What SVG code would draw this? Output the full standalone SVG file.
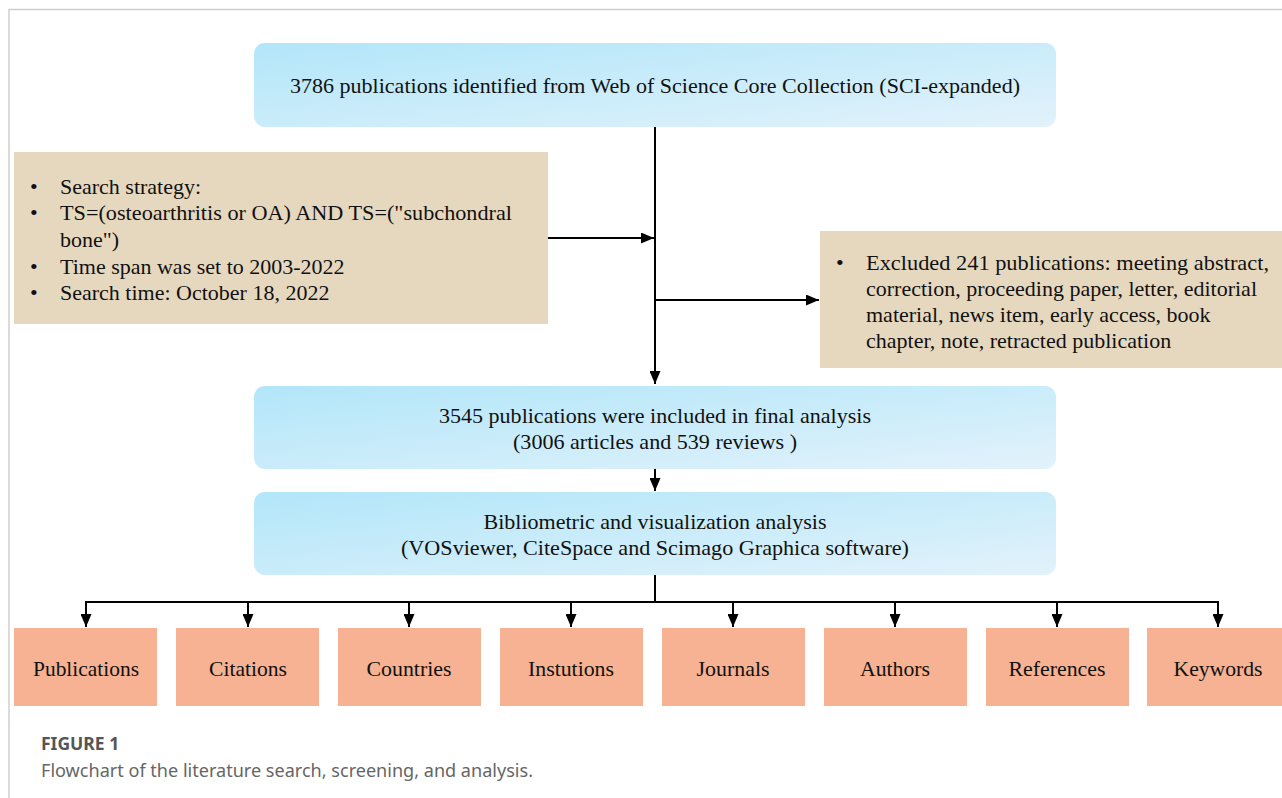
<svg xmlns="http://www.w3.org/2000/svg" width="1282" height="798" viewBox="0 0 1282 798">
<defs>
<linearGradient id="blue" x1="0" y1="0" x2="1" y2="1">
<stop offset="0" stop-color="#b2e6f9"/>
<stop offset="1" stop-color="#e2f2fb"/>
</linearGradient>
<marker id="ah" viewBox="0 0 13 11" refX="13" refY="5.5" markerWidth="13" markerHeight="11" markerUnits="userSpaceOnUse" orient="auto">
<path d="M0,0 L13,5.5 L0,11 Z" fill="#000"/>
</marker>
<style>
.t{font-family:"Liberation Serif","Times New Roman",serif;font-size:22px;fill:#111;}
.c{text-anchor:middle;}
.blue{fill:url(#blue);}
.tan{fill:#e6d8bf;}
.sal{fill:#f6b292;}
.ln{stroke:#000;stroke-width:2;fill:none;}
.cap{font-family:"Noto Sans","Open Sans",sans-serif;font-size:17.5px;fill:#666;}
</style>
</defs>
<rect width="1282" height="798" fill="#fff"/>
<path d="M9,798 V9.5 H1282" fill="none" stroke="#cfcfcf" stroke-width="1.5"/>

<g id="connectors">
<line class="ln" x1="655" y1="127" x2="655" y2="384" marker-end="url(#ah)"/>
<line class="ln" x1="548" y1="238" x2="654" y2="238" marker-end="url(#ah)"/>
<line class="ln" x1="655" y1="300" x2="819" y2="300" marker-end="url(#ah)"/>
<line class="ln" x1="655" y1="469" x2="655" y2="491" marker-end="url(#ah)"/>
<path class="ln" d="M655,575 V602 M85,602 H1219"/>
<line class="ln" x1="86" y1="601" x2="86" y2="627" marker-end="url(#ah)"/>
<line class="ln" x1="248" y1="601" x2="248" y2="627" marker-end="url(#ah)"/>
<line class="ln" x1="409" y1="601" x2="409" y2="627" marker-end="url(#ah)"/>
<line class="ln" x1="571" y1="601" x2="571" y2="627" marker-end="url(#ah)"/>
<line class="ln" x1="733" y1="601" x2="733" y2="627" marker-end="url(#ah)"/>
<line class="ln" x1="895" y1="601" x2="895" y2="627" marker-end="url(#ah)"/>
<line class="ln" x1="1057" y1="601" x2="1057" y2="627" marker-end="url(#ah)"/>
<line class="ln" x1="1218" y1="601" x2="1218" y2="627" marker-end="url(#ah)"/>
</g>

<g id="identified">
<rect class="blue" x="254" y="43" width="802" height="84" rx="11"/>
<text class="t c" x="655" y="93" textLength="730" lengthAdjust="spacingAndGlyphs">3786 publications identified from Web of Science Core Collection (SCI-expanded)</text>
</g>

<g id="strategy">
<rect class="tan" x="14" y="152" width="534" height="172"/>
<g class="t">
<text x="30" y="194">•</text><text x="60" y="194">Search strategy:</text>
<text x="30" y="220">•</text><text x="60" y="220" textLength="452" lengthAdjust="spacingAndGlyphs">TS=(osteoarthritis or OA) AND TS=("subchondral</text>
<text x="60" y="247">bone")</text>
<text x="30" y="274">•</text><text x="60" y="274">Time span was set to 2003-2022</text>
<text x="30" y="300">•</text><text x="60" y="300">Search time: October 18, 2022</text>
</g>
</g>

<g id="excluded">
<rect class="tan" x="820" y="231" width="462" height="137"/>
<g class="t">
<text x="836" y="270">•</text><text x="866" y="270" textLength="403" lengthAdjust="spacingAndGlyphs">Excluded 241 publications:  meeting abstract,</text>
<text x="866" y="296">correction, proceeding paper, letter, editorial</text>
<text x="866" y="322">material, news item, early access, book</text>
<text x="866" y="348">chapter, note, retracted publication</text>
</g>
</g>

<g id="included">
<rect class="blue" x="254" y="386" width="802" height="83" rx="11"/>
<text class="t c" x="655" y="423" textLength="432" lengthAdjust="spacingAndGlyphs">3545 publications were included in final analysis</text>
<text class="t c" x="655" y="449" textLength="284" lengthAdjust="spacingAndGlyphs">(3006 articles and 539 reviews )</text>
</g>

<g id="analysis">
<rect class="blue" x="254" y="492" width="802" height="83" rx="11"/>
<text class="t c" x="655" y="529" textLength="343" lengthAdjust="spacingAndGlyphs">Bibliometric and visualization analysis</text>
<text class="t c" x="655" y="555" textLength="508" lengthAdjust="spacingAndGlyphs">(VOSviewer, CiteSpace and Scimago Graphica software)</text>
</g>

<g id="publications"><rect class="sal" x="14" y="628" width="143" height="78"/><text class="t c" x="86" y="676" textLength="106" lengthAdjust="spacingAndGlyphs">Publications</text></g>
<g id="citations"><rect class="sal" x="176" y="628" width="143" height="78"/><text class="t c" x="248" y="676" textLength="78" lengthAdjust="spacingAndGlyphs">Citations</text></g>
<g id="countries"><rect class="sal" x="338" y="628" width="143" height="78"/><text class="t c" x="409" y="676" textLength="85" lengthAdjust="spacingAndGlyphs">Countries</text></g>
<g id="instutions"><rect class="sal" x="500" y="628" width="143" height="78"/><text class="t c" x="571" y="676" textLength="86" lengthAdjust="spacingAndGlyphs">Instutions</text></g>
<g id="journals"><rect class="sal" x="662" y="628" width="143" height="78"/><text class="t c" x="733" y="676" textLength="73" lengthAdjust="spacingAndGlyphs">Journals</text></g>
<g id="authors"><rect class="sal" x="824" y="628" width="143" height="78"/><text class="t c" x="895" y="676" textLength="70" lengthAdjust="spacingAndGlyphs">Authors</text></g>
<g id="references"><rect class="sal" x="986" y="628" width="143" height="78"/><text class="t c" x="1057" y="676" textLength="97" lengthAdjust="spacingAndGlyphs">References</text></g>
<g id="keywords"><rect class="sal" x="1147" y="628" width="143" height="78"/><text class="t c" x="1218" y="676" textLength="89" lengthAdjust="spacingAndGlyphs">Keywords</text></g>

<g id="caption">
<text class="cap" x="41" y="750" style="font-weight:bold;fill:#555">FIGURE 1</text>
<text class="cap" x="41" y="777" textLength="492" lengthAdjust="spacingAndGlyphs">Flowchart of the literature search, screening, and analysis.</text>
</g>
</svg>
